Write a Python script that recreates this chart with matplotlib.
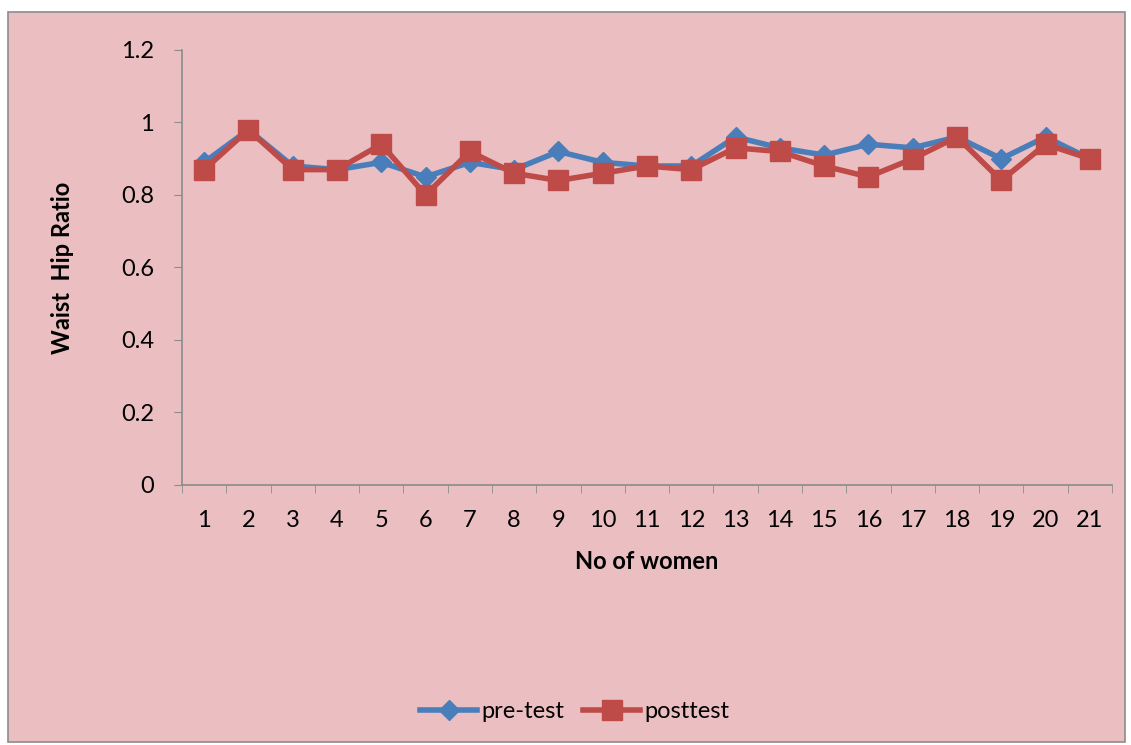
import matplotlib
matplotlib.use("Agg")
import matplotlib.pyplot as plt
from matplotlib.patches import Rectangle

# ===== 数据 =====
women = [str(i) for i in range(1, 22)]
pre_test = [0.89, 0.98, 0.88, 0.87, 0.89, 0.85, 0.89, 0.87, 0.92, 0.89, 0.88,
            0.88, 0.96, 0.93, 0.91, 0.94, 0.93, 0.96, 0.90, 0.96, 0.90]
post_test = [0.87, 0.98, 0.87, 0.87, 0.94, 0.80, 0.92, 0.86, 0.84, 0.86, 0.88,
             0.87, 0.93, 0.92, 0.88, 0.85, 0.90, 0.96, 0.84, 0.94, 0.90]
y_ticks = [0, 0.2, 0.4, 0.6, 0.8, 1, 1.2]

BG = "#EBBFC1"
BLUE = "#4A7EBB"
RED = "#BE4B48"

plt.rcParams["font.family"] = ["Lato", "DejaVu Sans"]

fig = plt.figure(figsize=(11.31, 7.45), dpi=100)
fig.patch.set_facecolor("white")

# 图表区背景与边框（放在坐标轴下面）
frame = Rectangle((8 / 1131, 3 / 745), 1117 / 1131, 730 / 745,
                  transform=fig.transFigure, facecolor=BG,
                  edgecolor="#8C8C8C", linewidth=1.2, zorder=-10)
fig.patches.append(frame)

ax = fig.add_axes([182 / 1131, 1 - 485 / 745, 930 / 1131, 435 / 745])
ax.set_facecolor("none")
ax.set_zorder(1)

x = list(range(len(women)))
ax.plot(x, pre_test, color=BLUE, lw=4, marker="D", ms=10,
        mec=BLUE, mfc=BLUE, label="pre-test", zorder=3)
ax.plot(x, post_test, color=RED, lw=4, marker="s", ms=14,
        mec=RED, mfc=RED, label="posttest", zorder=4)

FS = 17
ax.set_xlim(-0.5, len(women) - 0.5)
ax.set_ylim(0, 1.2)
ax.set_yticks(y_ticks)
ax.set_yticklabels(["0", "0.2", "0.4", "0.6", "0.8", "1", "1.2"], fontsize=FS)
ax.set_xticks(x)
ax.set_xticklabels(women, fontsize=FS)
ax.set_xticks([i - 0.5 for i in range(len(women) + 1)], minor=True)
ax.tick_params(axis="x", which="major", length=0, pad=18)
ax.tick_params(axis="x", which="minor", length=6, color="#8C8C8C", direction="out")
ax.tick_params(axis="y", length=6, color="#8C8C8C", direction="out", pad=14)

for side in ("top", "right"):
    ax.spines[side].set_visible(False)
for side in ("left", "bottom"):
    ax.spines[side].set_color("#8C8C8C")
    ax.spines[side].set_linewidth(1.2)

ax.set_xlabel("No of women", fontsize=FS, fontweight="bold", labelpad=14)
ax.set_ylabel("Waist  Hip Ratio", fontsize=FS, fontweight="bold", labelpad=34)

fig.legend(loc="center", bbox_to_anchor=(575 / 1131, 1 - 712 / 745), ncol=2,
           frameon=False, fontsize=FS, handlelength=2.4, columnspacing=0.8,
           handletextpad=0.2)

fig.savefig("out.png", dpi=100, facecolor="white")
